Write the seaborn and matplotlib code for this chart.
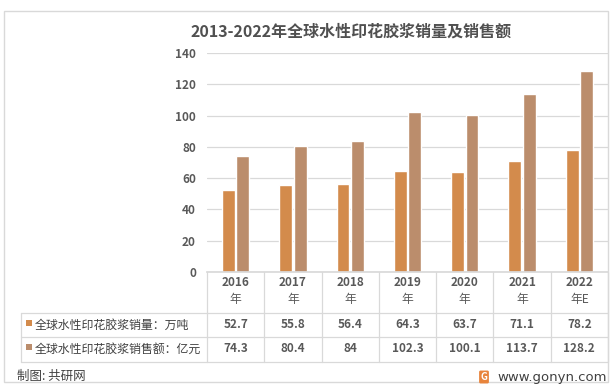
import pandas as pd
import seaborn as sns
import matplotlib.pyplot as plt
import matplotlib.transforms as mtransforms
from matplotlib.lines import Line2D
from matplotlib.patches import Rectangle

# data
years = ['2016', '2017', '2018', '2019', '2020', '2021', '2022']
year_suffix = ['年', '年', '年', '年', '年', '年', '年E']
volume = [52.7, 55.8, 56.4, 64.3, 63.7, 71.1, 78.2]      # 万吨
sales = [74.3, 80.4, 84, 102.3, 100.1, 113.7, 128.2]     # 亿元
series_names = ['全球水性印花胶浆销量：万吨', '全球水性印花胶浆销售额：亿元']
colors = ['#D38B4C', '#BB8D6C']

title = '2013-2022年全球水性印花胶浆销量及销售额'

sns.set_theme(style='white')
plt.rcParams['font.family'] = ['Noto Sans CJK SC', 'DejaVu Sans']

W, H = 614, 391
text_c = '#595959'
line_c = '#D9D9D9'

fig = plt.figure(figsize=(W / 100, H / 100), dpi=100)
# plot area in pixels: x 207..608, y 53..272
ax = fig.add_axes([207 / W, 1 - 272 / H, 401 / W, 219 / H])

df = pd.DataFrame({
    'year': years * 2,
    'value': volume + sales,
    'series': [series_names[0]] * len(years) + [series_names[1]] * len(years),
})
sns.barplot(data=df, x='year', y='value', hue='series', palette=colors,
            width=0.5, gap=0.1, saturation=1, legend=False, ax=ax)

ax.set_xlim(-0.5, len(years) - 0.5)
ax.set_ylim(0, 140)
ax.set_yticks(range(0, 141, 20))
ax.yaxis.grid(True, color=line_c, lw=0.9)
ax.set_axisbelow(True)
for s in ['left', 'right', 'top']:
    ax.spines[s].set_visible(False)
ax.spines['bottom'].set_color(line_c)
ax.set_xticks([])
ax.set_xlabel('')
ax.set_ylabel('')
ax.tick_params(axis='y', length=0, pad=8, labelsize=8.5, labelcolor=text_c)
for lab in ax.get_yticklabels():
    lab.set_fontweight('bold')

# data table under the axis
def yax(py):
    return (272 - py) / 219

tr = mtransforms.blended_transform_factory(ax.transData, ax.transAxes)
for i in range(len(years) + 1):
    ax.add_line(Line2D([i - 0.5, i - 0.5], [0, yax(362)], transform=tr,
                       color=line_c, lw=0.9, clip_on=False))
for py in [313, 337, 362]:
    fig.add_artist(Line2D([21 / W, 608 / W], [1 - py / H] * 2, color=line_c, lw=0.9))
fig.add_artist(Line2D([21 / W] * 2, [1 - 313 / H, 1 - 362 / H], color=line_c, lw=0.9))

for i, (y, suf) in enumerate(zip(years, year_suffix)):
    ax.text(i, yax(282), y, transform=tr, ha='center', va='center',
            fontsize=8.5, fontweight='bold', color=text_c)
    ax.text(i, yax(300), suf, transform=tr, ha='center', va='center',
            fontsize=8.5, fontweight='medium', color=text_c)
    ax.text(i, yax(324.5), f'{volume[i]:g}', transform=tr, ha='center', va='center',
            fontsize=8.5, fontweight='bold', color=text_c)
    ax.text(i, yax(349), f'{sales[i]:g}', transform=tr, ha='center', va='center',
            fontsize=8.5, fontweight='bold', color=text_c)

for name, c, cy in zip(series_names, colors, [325, 349.5]):
    fig.add_artist(Rectangle((26 / W, 1 - (cy + 0.5) / H), 6 / W, 6 / H,
                             transform=fig.transFigure, color=c, lw=0))
    fig.text(35 / W, 1 - cy / H, name, ha='left', va='center',
             fontsize=8.6, fontweight='medium', color='#404040')

fig.text(351 / W, 1 - 32 / H, title, ha='center', va='center',
         fontsize=11.5, fontweight='bold', color='#505050')

# footer
fig.text(17 / W, 1 - 376 / H, '制图: 共研网', ha='left', va='center',
         fontsize=9, fontweight='medium', color='#404040')
fig.text(484 / W, 1 - 377 / H, 'G', ha='center', va='center', fontsize=7,
         fontweight='bold', color='white',
         bbox=dict(boxstyle='round,pad=0.15', fc='#E8843C', ec='none'))
fig.text(497 / W, 1 - 377 / H, 'www.gonyn.com', ha='left', va='center',
         fontsize=9.5, color='#404040', family='DejaVu Sans')

# outer frame
fig.add_artist(Rectangle((4 / W, 1 - 382 / H), 604 / W, 371 / H,
                         transform=fig.transFigure, fill=False,
                         ec=line_c, lw=1))

fig.savefig('out.png', dpi=100)
